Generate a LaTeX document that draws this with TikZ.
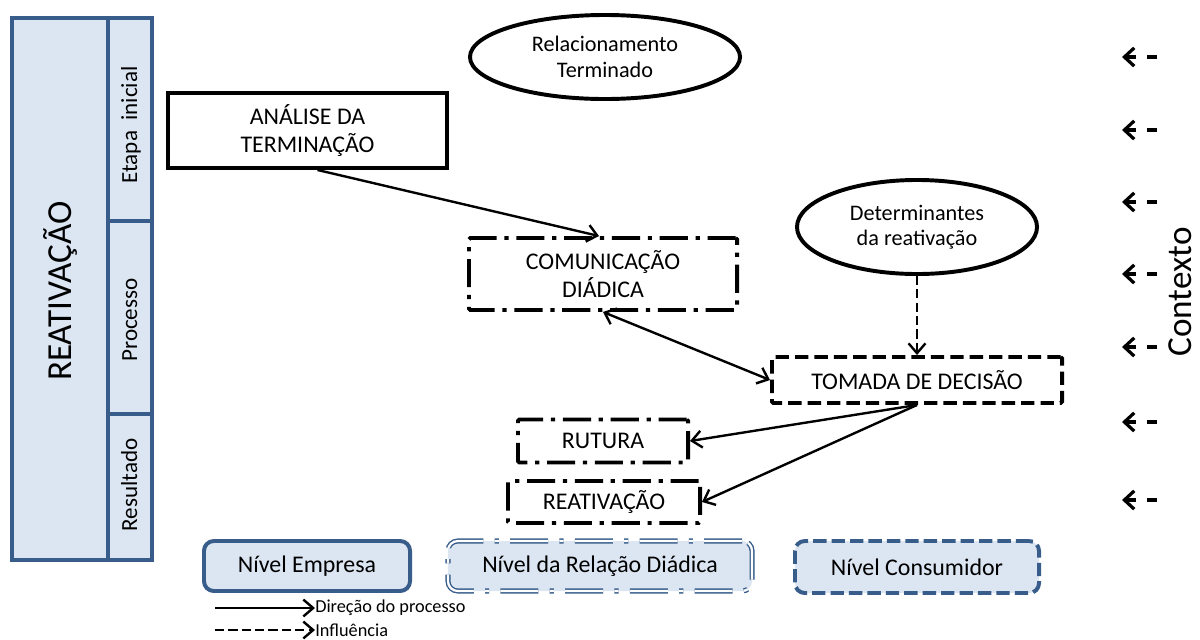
\documentclass[tikz,border=0pt]{standalone}
\usepackage{fontspec}
\setmainfont{Carlito}
\usepackage{tikz}
\usetikzlibrary{arrows.meta,shapes.geometric}
\definecolor{panelfill}{RGB}{220,230,242}
\definecolor{panelline}{RGB}{56,93,138}
\def\boxfont{\fontsize{17}{20.5}\selectfont}
\def\ovalfont{\fontsize{15.8}{18}\selectfont}
\def\sidefont{\fontsize{16.4}{19}\selectfont}
\def\bigfont{\fontsize{25}{28}\selectfont}
\def\ctxfont{\fontsize{25}{30}\selectfont}
\def\legfont{\fontsize{13}{15}\selectfont}

\begin{document}
\begin{tikzpicture}[x=0.025cm, y=-0.025cm,
    every node/.style={inner sep=0pt, align=center},
    solidbox/.style={draw, line width=2.8pt, font=\boxfont},
    dashdotbox/.style={draw, line width=2.8pt, rounded corners=1pt, font=\boxfont,
      dash pattern=on 20pt off 5.5pt on 3pt off 5.5pt},
    dashbox/.style={draw, line width=2.8pt, rounded corners=1pt, font=\boxfont,
      dash pattern=on 9.5pt off 4.3pt},
    oval/.style={ellipse, draw, line width=2.8pt, font=\ovalfont},
    levelbox/.style={draw=panelline, fill=panelfill, line width=2.8pt, rounded corners=7pt, font=\boxfont},
    flow/.style={-{Straight Barb[length=7pt,width=12pt]}, line width=1.7pt},
    twoway/.style={{Straight Barb[length=7pt,width=12pt]}-{Straight Barb[length=7pt,width=12pt]}, line width=1.7pt},
    infl/.style={flow, dash pattern=on 6.5pt off 3pt},
    ctxarrow/.style={-{Straight Barb[length=7pt,width=13pt]}, line width=2.3pt,
      dash pattern=on 7pt off 8pt on 20pt off 0pt}]
      \useasboundingbox (0,0) rectangle (1200,639);

      \filldraw [fill=panelfill, draw=panelline, line width=2.2pt] (12,18) rectangle (152,560);
      \draw [panelline, line width=2.2pt] (108,18) -- (108,560) (108,221) -- (152,221) (108,414) -- (152,414);
      \node[rotate=90, anchor=base, font=\bigfont] (titulo) at (71,291) {REATIVAÇÃO};
      \node[rotate=90, anchor=base, font=\sidefont] (etapa) at (137,125) {Etapa\ \ inicial};
      \node[rotate=90, anchor=base, font=\sidefont] (processo) at (137,320) {Processo};
      \node[rotate=90, anchor=base, font=\sidefont] (resultado) at (137,485) {Resultado};

      \node[oval, minimum width=6.75cm, minimum height=2.1cm] (relac) at (605,57) {Relacionamento\\Terminado};
      \node[solidbox, minimum width=6.975cm, minimum height=1.875cm] (analise) at (307.5,130.5) {ANÁLISE DA\\TERMINAÇÃO};
      \node[oval, minimum width=6cm, minimum height=2.35cm] (determ) at (917,227) {Determinantes\\da reativação};
      \node[dashdotbox, minimum width=6.7cm, minimum height=1.8cm] (comunic) at (603,274) {COMUNICAÇÃO\\DIÁDICA};
      \node[dashbox, minimum width=7.25cm, minimum height=1.15cm] (tomada) at (917,380) {TOMADA DE DECISÃO};
      \node[dashdotbox, minimum width=4.25cm, minimum height=1.075cm] (rutura) at (603,441) {RUTURA};
      \node[dashdotbox, minimum width=4.8cm, minimum height=1.05cm] (reativ) at (604,502) {REATIVAÇÃO};

      \draw[flow] ([xshift=0.25cm]analise.south) -- ([xshift=-0.1cm]comunic.north);
      \draw[twoway] (comunic.south) -- (tomada.west);
      \draw[infl] (determ.south) -- (tomada.north);
      \draw[flow] (tomada.south) -- (rutura.east);
      \draw[flow] (tomada.south) -- (reativ.east);

      \node[levelbox, minimum width=5.15cm, minimum height=1.25cm] (empresa) at (307,566) {Nível Empresa};
      \node[levelbox, minimum width=7.6cm, minimum height=1.25cm, line width=1pt, double=white, double distance=1.6pt,
        dash pattern=on 27pt off 8pt on 3pt off 8pt] (diadica) at (600,566) {Nível da Relação Diádica};
      \node[levelbox, minimum width=6.1cm, minimum height=1.3cm, dash pattern=on 9.5pt off 3.6pt] (consum) at (917,567) {Nível Consumidor};

      \coordinate (legA) at (215,608);
      \coordinate (legB) at (215,630);
      \node[anchor=west, font=\legfont] (legdir) at (315,608) {Direção do processo};
      \node[anchor=west, font=\legfont] (leginf) at (315,630) {Influência};
      \draw[flow] (legA) -- (legdir.west);
      \draw[infl] (legB) -- (leginf.west);

      \foreach \y [count=\i] in {57,130,202,274,347,422,500} {
        \coordinate (ctx\i) at (1157,\y);
        \draw[ctxarrow] (ctx\i) -- ++(-35,0);
      }
      \node[rotate=90, anchor=base, font=\ctxfont] (contexto) at (1191,292) {Contexto};
    \end{tikzpicture}
\end{document}
